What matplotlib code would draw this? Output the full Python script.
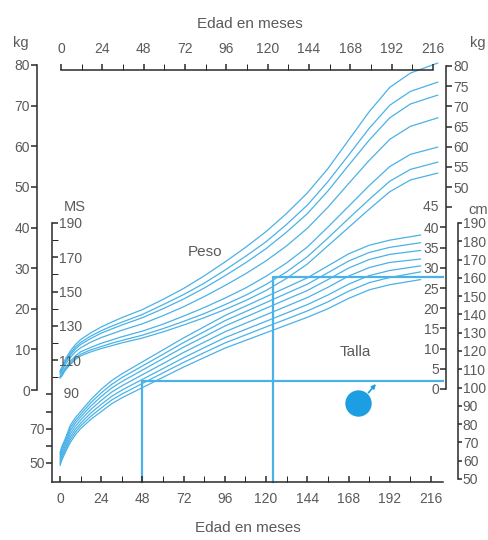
import matplotlib
matplotlib.use('Agg')
import matplotlib.pyplot as plt

W, H = 489, 540
plt.rcParams['font.family'] = ['Liberation Sans', 'DejaVu Sans']
TXT = '#5a5a5a'
AXC = '#2a2a2a'
BLUE = '#4ab2e6'
BLUE2 = '#1c9fe2'
FS = 10
FS_LAB = 11

# ---------------- data ----------------
months_peso = [0, 1, 3, 6, 9, 12, 18, 24, 30, 36, 48, 60, 72, 84, 96, 108, 120, 132, 144,
               156, 168, 180, 192, 204, 220]
peso_p3  = [2.9, 3.4, 4.8, 6.3, 7.5, 8.4, 9.4, 10.2, 10.9, 11.6, 12.8, 14.3, 16.0, 17.8, 19.8,
            22.0, 24.5, 27.5, 31.0, 35.5, 40.0, 44.5, 48.8, 51.7, 53.4]
peso_p10 = [3.1, 3.6, 5.1, 6.6, 7.9, 8.8, 9.9, 10.7, 11.5, 12.2, 13.5, 15.1, 16.9, 18.8, 21.0,
            23.3, 26.0, 29.1, 32.8, 37.4, 42.2, 46.9, 51.4, 54.3, 56.1]
peso_p25 = [3.3, 3.9, 5.4, 7.1, 8.4, 9.4, 10.5, 11.5, 12.3, 13.1, 14.5, 16.2, 18.2, 20.3, 22.6,
            25.1, 28.0, 31.3, 35.2, 40.1, 45.2, 50.3, 55.0, 58.0, 59.8]
peso_p50 = [3.8, 4.5, 6.2, 8.0, 9.4, 10.4, 11.8, 12.9, 13.8, 14.7, 16.3, 18.3, 20.5, 23.0, 25.7,
            28.6, 31.8, 35.5, 39.8, 45.0, 50.8, 56.5, 61.7, 64.9, 67.0]
peso_p75 = [4.2, 4.9, 6.7, 8.6, 10.1, 11.2, 12.7, 14.0, 15.0, 16.0, 17.8, 20.0, 22.4, 25.1, 28.1,
            31.3, 34.8, 38.9, 43.4, 49.0, 55.3, 61.5, 67.0, 70.4, 72.6]
peso_p90 = [4.4, 5.1, 7.0, 9.0, 10.6, 11.7, 13.3, 14.6, 15.7, 16.7, 18.6, 21.0, 23.5, 26.3, 29.5,
            32.9, 36.5, 40.8, 45.5, 51.3, 57.8, 64.4, 70.1, 73.5, 75.8]
peso_p97 = [4.7, 5.5, 7.5, 9.6, 11.2, 12.4, 14.1, 15.5, 16.7, 17.8, 19.8, 22.3, 25.0, 28.1, 31.5,
            35.1, 39.0, 43.5, 48.5, 54.5, 61.5, 68.5, 74.5, 78.0, 80.5]

months_talla = [0, 1, 3, 6, 9, 12, 18, 24, 30, 36, 48, 60, 72, 84, 96, 108, 120, 132, 144,
                156, 168, 180, 192, 210]
talla_p3  = [48.5, 51.5, 56.0, 62.0, 66.5, 70.0, 75.5, 80.0, 84.5, 88.0, 94.0, 100.0, 106.0,
             111.5, 117.0, 121.5, 126.0, 130.5, 135.0, 140.0, 146.0, 151.0, 154.0, 157.0]
talla_p10 = [49.7, 52.8, 57.3, 63.6, 68.1, 71.6, 77.3, 82.1, 86.7, 90.2, 96.4, 102.6, 108.7,
             114.4, 120.0, 124.7, 129.4, 134.0, 138.7, 144.0, 150.2, 155.2, 158.2, 161.5]
talla_p25 = [50.9, 54.1, 58.6, 65.2, 69.7, 73.2, 79.2, 84.2, 88.8, 92.5, 98.8, 105.1, 111.4,
             117.3, 123.1, 127.9, 132.7, 137.5, 142.4, 148.0, 154.3, 159.3, 162.3, 165.0]
talla_p50 = [52.3, 55.5, 60.0, 67.0, 71.5, 75.0, 81.3, 86.5, 91.3, 95.0, 101.5, 108.0, 114.5,
             120.5, 126.5, 131.5, 136.5, 141.5, 146.5, 152.5, 159.0, 164.0, 167.0, 169.0]
talla_p75 = [53.6, 56.9, 61.4, 68.8, 73.3, 76.8, 83.3, 88.8, 93.7, 97.5, 104.2, 110.9, 117.6,
             123.7, 129.9, 135.1, 140.3, 145.5, 150.6, 157.0, 163.7, 168.7, 171.7, 174.0]
talla_p90 = [54.8, 58.2, 62.7, 70.4, 74.9, 78.4, 85.2, 90.9, 95.8, 99.8, 106.6, 113.4, 120.3,
             126.6, 133.0, 138.3, 143.6, 149.0, 154.3, 161.0, 167.8, 172.8, 175.8, 178.5]
talla_p97 = [56.0, 59.5, 64.0, 72.0, 76.5, 80.0, 87.0, 93.0, 98.0, 102.0, 109.0, 116.0, 123.0,
             129.5, 136.0, 141.5, 147.0, 152.5, 158.0, 165.0, 172.0, 177.0, 180.0, 183.0]

age_ticks = [0, 24, 48, 72, 96, 120, 144, 168, 192, 216]
age_minor = [12, 36, 60, 84, 108, 132, 156, 180, 204]
kg_left_ticks = [0, 10, 20, 30, 40, 50, 60, 70, 80]
kg_right_upper = [50, 55, 60, 65, 70, 75, 80]
kg_right_lower = [0, 5, 10, 15, 20, 25, 30, 35, 40]
ms_upper_major = [110, 130, 150, 170, 190]
ms_upper_minor = [100, 120, 140, 160, 180]
ms_lower_ticks = [50, 60, 70, 80, 90]
ms_lower_labels = [50, 70]
cm_right_ticks = [50, 60, 70, 80, 90, 100, 110, 120, 130, 140, 150, 160, 170, 180, 190]

ref_talla_month, ref_talla_cm = 48, 98.0
ref_peso_month, ref_peso_kg = 124, 27.8
ref_end_month = 223
symbol_month, symbol_kg = 173.5, -3.2

# ---------------- figure ----------------
fig = plt.figure(figsize=(W / 100, H / 100), dpi=100)
fig.patch.set_facecolor('white')


def rect(x0, y_top, x1, y_bot):
    return [x0 / W, 1 - y_bot / H, max(x1 - x0, 0.01) / W, max(y_bot - y_top, 0.01) / H]


def lin_lim(px_a, v_a, px_b, v_b, px_top, px_bot):
    s = (v_a - v_b) / (px_b - px_a)
    return v_b - (px_bot - px_b) * s, v_a + (px_a - px_top) * s


X0, X216 = 60, 431
PX_TOP, PX_BOT = 65, 482

# weight axes
ax = fig.add_axes(rect(X0, PX_TOP, X216, PX_BOT))
ax.set_xlim(0, 216)
ax.set_ylim(*lin_lim(65, 80, 390, 0, PX_TOP, PX_BOT))
ax.axis('off')

# height axes
axt = fig.add_axes(rect(X0, PX_TOP, X216, PX_BOT))
axt.set_xlim(0, 216)
axt.set_ylim(*lin_lim(223, 190, 463, 50, PX_TOP, PX_BOT))
axt.axis('off')
axt.patch.set_alpha(0)

for s in [peso_p3, peso_p10, peso_p25, peso_p50, peso_p75, peso_p90, peso_p97]:
    ax.plot(months_peso, s, color=BLUE, lw=0.9, clip_on=False, solid_capstyle='round',
            solid_joinstyle='round')
for s in [talla_p3, talla_p10, talla_p25, talla_p50, talla_p75, talla_p90, talla_p97]:
    axt.plot(months_talla, s, color=BLUE, lw=0.9, clip_on=False, solid_capstyle='round',
             solid_joinstyle='round')

# reference lines
yb_t = axt.get_ylim()[0]
axt.plot([ref_talla_month, ref_talla_month, ref_end_month], [yb_t, ref_talla_cm, ref_talla_cm],
         color=BLUE, lw=1.6, clip_on=False)
yb_w = ax.get_ylim()[0]
ax.plot([ref_peso_month, ref_peso_month, ref_end_month], [yb_w, ref_peso_kg, ref_peso_kg],
        color=BLUE, lw=1.6, clip_on=False)

# male symbol
ax.plot([symbol_month], [symbol_kg], 'o', ms=19, color=BLUE2, mec='none', clip_on=False)
ax.annotate('', xy=(symbol_month + 11.5, symbol_kg + 5.2), xytext=(symbol_month + 5, symbol_kg + 2.0),
            arrowprops=dict(arrowstyle='-|>', color=BLUE2, lw=1.2, mutation_scale=6))


def style_axis(a):
    a.patch.set_alpha(0)
    for sp in a.spines.values():
        sp.set_visible(False)
        sp.set_color(AXC)
        sp.set_linewidth(1.1)
    a.tick_params(colors=AXC, labelcolor=TXT, labelsize=FS, width=1.1)


# top age axis
axtop = fig.add_axes(rect(61, 70, 433, 70.01))
style_axis(axtop)
axtop.set_xlim(0, 216)
axtop.spines['top'].set_visible(True)
axtop.set_yticks([])
axtop.xaxis.set_ticks_position('top')
axtop.set_xticks(age_ticks)
axtop.set_xticks(age_minor, minor=True)
axtop.tick_params(axis='x', which='both', direction='out', length=4, pad=6, top=True, bottom=False,
                  labeltop=True, labelbottom=False)

# bottom age axis
bx0, bx1 = 52, 443
pxm = (X216 - X0) / 216
axbot = fig.add_axes(rect(bx0, 482, bx1, 482.01))
style_axis(axbot)
axbot.set_xlim((bx0 - X0) / pxm, (bx1 - X0) / pxm)
axbot.spines['bottom'].set_visible(True)
axbot.set_yticks([])
axbot.set_xticks(age_ticks)
axbot.set_xticks(age_minor, minor=True)
axbot.tick_params(axis='x', which='both', direction='in', length=4, pad=7)


def vaxis(x, px_top, v_top, px_bot, v_bot, side, ticks, labels=None, minor=None, spine=True,
          length=4, pad=1.0):
    a = fig.add_axes(rect(x, px_top, x + 0.01, px_bot))
    style_axis(a)
    a.set_ylim(v_bot, v_top)
    a.set_xticks([])
    if spine:
        a.spines[side].set_visible(True)
    a.yaxis.set_ticks_position(side)
    a.set_yticks(ticks)
    if labels is not None:
        a.set_yticklabels([str(t) if t in labels else '' for t in ticks])
    if minor:
        a.set_yticks(minor, minor=True)
    a.tick_params(axis='y', which='both', direction='out', length=length, pad=pad,
                  left=(side == 'left'), right=(side == 'right'),
                  labelleft=(side == 'left'), labelright=(side == 'right'))
    return a


# left kg axis
vaxis(37, 65, 80, 390, 0, 'left', kg_left_ticks)
# MS axis (upper ticks right, lower ticks left)
ms_bot = lin_lim(223, 190, 463, 50, 223, 482)[0]
a_ms = vaxis(52, 223, 190, 482, ms_bot, 'right', ms_upper_major, minor=ms_upper_minor)
vaxis(52, 223, 190, 482, ms_bot, 'left', ms_lower_ticks, labels=ms_lower_labels, spine=False)
a_ms.text(1.0, 90, '   90', transform=a_ms.get_yaxis_transform(), ha='left', va='center',
          color=TXT, fontsize=FS)
# right kg axis
a_kr = vaxis(446, 66, 80, 389, 0, 'right', [45] + kg_right_upper, labels=kg_right_upper)
vaxis(446, 66, 80, 389, 0, 'left', kg_right_lower, spine=False)
a_kr.text(0.0, 45, '45  ', transform=a_kr.get_yaxis_transform(), ha='right', va='center',
          color=TXT, fontsize=FS)
# right cm axis
vaxis(458, 223, 190, 479, 50, 'right', cm_right_ticks, length=3, pad=0.5)

# texts
def ptext(x, y, s, size=FS_LAB, **kw):
    fig.text(x / W, 1 - y / H, s, color=TXT, fontsize=size, ha='center', va='center', **kw)

ptext(250, 24, 'Edad en meses')
ptext(248, 528, 'Edad en meses')
ptext(21, 43, 'kg', size=10.5)
ptext(478, 43, 'kg', size=10.5)
ptext(75, 207, 'MS', size=10.5)
ptext(478, 210, 'cm', size=10.5)
ptext(205, 252, 'Peso')
ptext(355, 352, 'Talla')

fig.savefig('out.png', dpi=100, facecolor='white')
